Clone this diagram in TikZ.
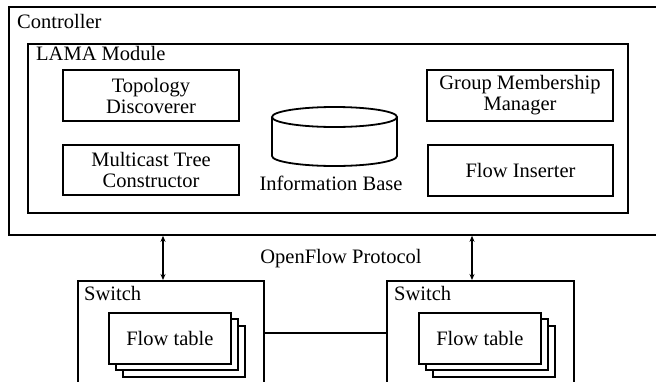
\documentclass[tikz,border=0pt]{standalone}
\usepackage{fontspec}
\setmainfont{Liberation Serif}
\newfontfamily\tnr{Liberation Serif}
\usetikzlibrary{arrows.meta}
\begin{document}
\begin{tikzpicture}[x=1pt,y=-1pt,
  txt/.style={font=\tnr\fontsize{20.5}{21}\selectfont},
  box/.style={draw,line width=1.8pt,rectangle,inner sep=0pt,align=center,txt},
  lbl/.style={anchor=base west,inner sep=0pt,txt},
  ft/.style={draw,line width=1.8pt,fill=white,minimum width=122pt,minimum height=51pt,inner sep=0pt,txt},
  arr/.style={line width=1.4pt,{Stealth[length=6pt,width=5pt]}-{Stealth[length=6pt,width=5pt]}}]
\useasboundingbox (0,0) rectangle (656,381);
\clip (0,0) rectangle (656,381);
% controller
\node[box,minimum width=654pt,minimum height=228pt,anchor=north west] (ctrl) at (8,6) {};
\node[lbl] (ctrll) at (17,28) {Controller};
% LAMA module
\node[box,minimum width=600pt,minimum height=169pt,anchor=north west] (lama) at (27,43) {};
\node[lbl] (lamal) at (36,60) {LAMA Module};
% modules
\node[box,minimum width=176pt,minimum height=51pt] (topo) at (151,95.5) {Topology\\Discoverer};
\node[box,minimum width=176pt,minimum height=50pt] (mtc) at (151,170) {Multicast Tree\\Constructor};
\node[box,minimum width=186pt,minimum height=51pt] (gmm) at (520,95.5) {Group Membership\\Manager};
\node[box,minimum width=185pt,minimum height=51pt] (fi) at (520.5,170.5) {Flow Inserter};
% information base cylinder
\coordinate (ib) at (334.5,117);
\draw[line width=1.8pt] ([xshift=-62.5pt]ib) -- ++(0,39) arc[start angle=180,end angle=360,x radius=62.5pt,y radius=10pt] -- ([xshift=62.5pt]ib);
\draw[line width=1.8pt] (ib) ellipse[x radius=62.5pt,y radius=10pt];
\node[lbl,anchor=base] (ibl) at (331,190) {Information Base};
% switches
\node[box,minimum width=186pt,minimum height=104pt,anchor=north west] (sw1) at (77,280) {};
\node[box,minimum width=187pt,minimum height=104pt,anchor=north west] (sw2) at (386,280) {};
\node[lbl] (sw1l) at (84,300) {Switch};
\node[lbl] (sw2l) at (394,300) {Switch};
% flow tables
\node[ft,anchor=north west] (ft1c) at (122,325) {};
\node[ft,anchor=north west] (ft1b) at (115,318) {};
\node[ft,anchor=north west] (ft1a) at (108,312) {Flow table};
\node[ft,anchor=north west] (ft2c) at (432,325) {};
\node[ft,anchor=north west] (ft2b) at (425,318) {};
\node[ft,anchor=north west] (ft2a) at (418,312) {Flow table};
% connections
\coordinate (a1) at ([xshift=86pt]sw1.north west);
\coordinate (a2) at ([xshift=86pt]sw2.north west);
\draw[arr] (a1 |- ctrl.south) -- (a1);
\draw[arr] (a2 |- ctrl.south) -- (a2);
\node[lbl,anchor=base] (ofp) at (341,263) {OpenFlow Protocol};
\draw[line width=1.2pt] (sw1.east) -- (sw2.west);
\end{tikzpicture}
\end{document}
